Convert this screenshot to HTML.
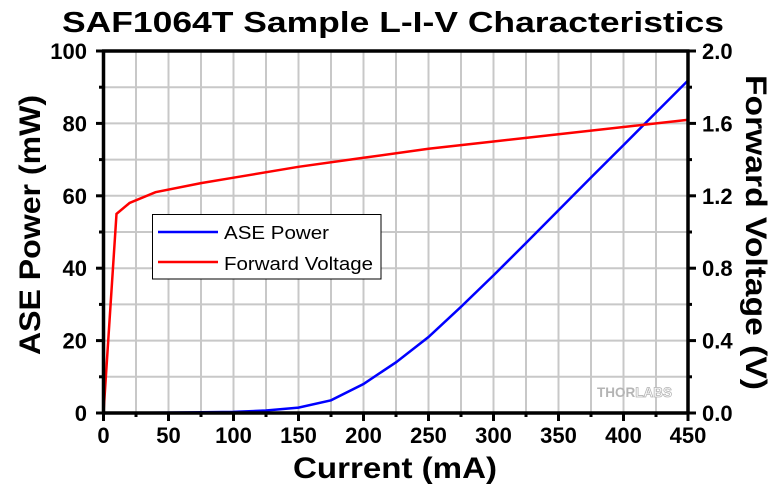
<!DOCTYPE html>
<html><head><style>body{margin:0;background:#fff}</style></head><body>
<svg width="780" height="487" xmlns="http://www.w3.org/2000/svg" font-family="Liberation Sans, Arial, sans-serif">
<rect width="780" height="487" fill="#fff"/>
<g stroke="#c8c8c8" stroke-width="2">
<line x1="136" y1="51" x2="136" y2="413"/><line x1="168.5" y1="51" x2="168.5" y2="413"/><line x1="201" y1="51" x2="201" y2="413"/><line x1="233.5" y1="51" x2="233.5" y2="413"/><line x1="266" y1="51" x2="266" y2="413"/><line x1="298.5" y1="51" x2="298.5" y2="413"/><line x1="331" y1="51" x2="331" y2="413"/><line x1="363.5" y1="51" x2="363.5" y2="413"/><line x1="396" y1="51" x2="396" y2="413"/><line x1="428.5" y1="51" x2="428.5" y2="413"/><line x1="461" y1="51" x2="461" y2="413"/><line x1="493.5" y1="51" x2="493.5" y2="413"/><line x1="526" y1="51" x2="526" y2="413"/><line x1="558.5" y1="51" x2="558.5" y2="413"/><line x1="591" y1="51" x2="591" y2="413"/><line x1="623.5" y1="51" x2="623.5" y2="413"/><line x1="656" y1="51" x2="656" y2="413"/>
<line x1="103.5" y1="376.8" x2="688" y2="376.8"/><line x1="103.5" y1="340.6" x2="688" y2="340.6"/><line x1="103.5" y1="304.4" x2="688" y2="304.4"/><line x1="103.5" y1="268.2" x2="688" y2="268.2"/><line x1="103.5" y1="232" x2="688" y2="232"/><line x1="103.5" y1="195.8" x2="688" y2="195.8"/><line x1="103.5" y1="159.6" x2="688" y2="159.6"/><line x1="103.5" y1="123.4" x2="688" y2="123.4"/><line x1="103.5" y1="87.2" x2="688" y2="87.2"/>
</g>
<text x="597" y="397" font-size="14" font-weight="bold" fill="#b4b4b4" textLength="75" lengthAdjust="spacingAndGlyphs">THOR<tspan fill="#fff" stroke="#b4b4b4" stroke-width="0.8">LABS</tspan></text>
<polyline fill="none" stroke="#0000ff" stroke-width="2.5" points="103.5,413 168.5,412.6 233.5,411.9 266,410.5 298.5,407.6 331,400.3 363.5,384 396,362.3 428.5,337 461,306.8 493.5,275.4 526,243 558.5,210.3 591,177.5 623.5,145.1 656,112.5 688.5,80"/>
<polyline fill="none" stroke="#ff0000" stroke-width="2.5" points="103.5,413 116.5,213.9 129.5,203 155.5,192.2 201,183.1 233.5,177.7 298.5,166.8 363.5,157.8 428.5,148.7 493.5,141.5 558.5,134.3 623.5,127 688.5,119.8"/>
<g stroke="#000" stroke-width="3.5" fill="none"><line x1="103.5" y1="49.5" x2="103.5" y2="414.5"/><line x1="688" y1="49.5" x2="688" y2="414.5"/><line x1="102" y1="51" x2="689.5" y2="51"/><line x1="102" y1="413" x2="689.5" y2="413"/></g>
<g stroke="#000" stroke-width="3">
<line x1="96" y1="413" x2="103" y2="413"/><line x1="96" y1="340.6" x2="103" y2="340.6"/><line x1="96" y1="268.2" x2="103" y2="268.2"/><line x1="96" y1="195.8" x2="103" y2="195.8"/><line x1="96" y1="123.4" x2="103" y2="123.4"/><line x1="96" y1="51" x2="103" y2="51"/>
<line x1="99" y1="376.8" x2="103" y2="376.8"/><line x1="99" y1="304.4" x2="103" y2="304.4"/><line x1="99" y1="232" x2="103" y2="232"/><line x1="99" y1="159.6" x2="103" y2="159.6"/><line x1="99" y1="87.2" x2="103" y2="87.2"/>
<line x1="688" y1="413" x2="696" y2="413"/><line x1="688" y1="340.6" x2="696" y2="340.6"/><line x1="688" y1="268.2" x2="696" y2="268.2"/><line x1="688" y1="195.8" x2="696" y2="195.8"/><line x1="688" y1="123.4" x2="696" y2="123.4"/><line x1="688" y1="51" x2="696" y2="51"/>
<line x1="688" y1="376.8" x2="692" y2="376.8"/><line x1="688" y1="304.4" x2="692" y2="304.4"/><line x1="688" y1="232" x2="692" y2="232"/><line x1="688" y1="159.6" x2="692" y2="159.6"/><line x1="688" y1="87.2" x2="692" y2="87.2"/>
<line x1="103.5" y1="413" x2="103.5" y2="421"/><line x1="168.5" y1="413" x2="168.5" y2="421"/><line x1="233.5" y1="413" x2="233.5" y2="421"/><line x1="298.5" y1="413" x2="298.5" y2="421"/><line x1="363.5" y1="413" x2="363.5" y2="421"/><line x1="428.5" y1="413" x2="428.5" y2="421"/><line x1="493.5" y1="413" x2="493.5" y2="421"/><line x1="558.5" y1="413" x2="558.5" y2="421"/><line x1="623.5" y1="413" x2="623.5" y2="421"/><line x1="688" y1="413" x2="688" y2="421"/>
<line x1="136" y1="413" x2="136" y2="417"/><line x1="201" y1="413" x2="201" y2="417"/><line x1="266" y1="413" x2="266" y2="417"/><line x1="331" y1="413" x2="331" y2="417"/><line x1="396" y1="413" x2="396" y2="417"/><line x1="461" y1="413" x2="461" y2="417"/><line x1="526" y1="413" x2="526" y2="417"/><line x1="591" y1="413" x2="591" y2="417"/><line x1="656" y1="413" x2="656" y2="417"/>
</g>
<g font-size="22" font-weight="bold" text-anchor="end">
<text x="87" y="421">0</text><text x="87" y="348.6">20</text><text x="87" y="276.2">40</text><text x="87" y="203.8">60</text><text x="87" y="131.4">80</text><text x="87" y="59">100</text>
</g>
<g font-size="22" font-weight="bold" text-anchor="start">
<text x="702" y="421">0.0</text><text x="702" y="348.6">0.4</text><text x="702" y="276.2">0.8</text><text x="702" y="203.8">1.2</text><text x="702" y="131.4">1.6</text><text x="702" y="59">2.0</text>
</g>
<g font-size="22" font-weight="bold" text-anchor="middle">
<text x="103.5" y="443">0</text><text x="168.5" y="443">50</text><text x="233.5" y="443">100</text><text x="298.5" y="443">150</text><text x="363.5" y="443">200</text><text x="428.5" y="443">250</text><text x="493.5" y="443">300</text><text x="558.5" y="443">350</text><text x="623.5" y="443">400</text><text x="688" y="443">450</text>
</g>
<text x="62" y="32" font-size="29" font-weight="bold" textLength="662" lengthAdjust="spacingAndGlyphs">SAF1064T Sample L-I-V Characteristics</text>
<text x="293" y="478" font-size="30" font-weight="bold" textLength="204" lengthAdjust="spacingAndGlyphs">Current (mA)</text>
<text transform="translate(40,355) rotate(-90)" font-size="30" font-weight="bold" textLength="260" lengthAdjust="spacingAndGlyphs">ASE Power (mW)</text>
<text transform="translate(746,75) rotate(90)" font-size="30" font-weight="bold" textLength="315" lengthAdjust="spacingAndGlyphs">Forward Voltage (V)</text>
<rect x="152.5" y="214.5" width="228.5" height="64.5" fill="#fff" stroke="#000" stroke-width="1"/>
<line x1="158" y1="232" x2="218" y2="232" stroke="#0000ff" stroke-width="2.5"/>
<line x1="158" y1="262" x2="218" y2="262" stroke="#ff0000" stroke-width="2.5"/>
<text x="224" y="239" font-size="18.5" textLength="105" lengthAdjust="spacingAndGlyphs">ASE Power</text>
<text x="224" y="270" font-size="18.5" textLength="149" lengthAdjust="spacingAndGlyphs">Forward Voltage</text>
</svg>
</body></html>
